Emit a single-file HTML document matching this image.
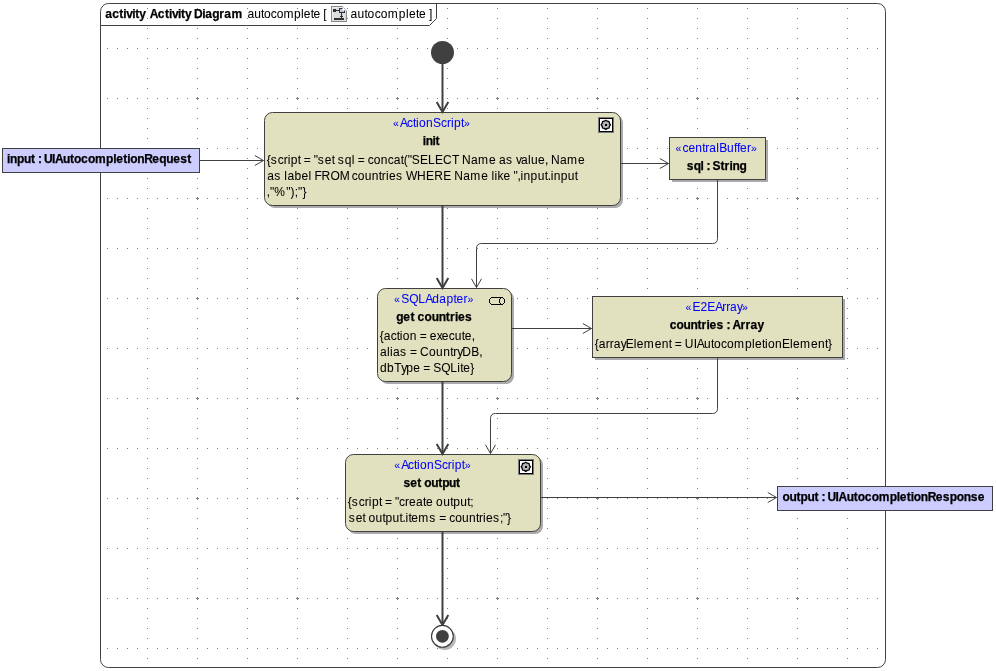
<!DOCTYPE html>
<html><head><meta charset="utf-8">
<style>
html,body{margin:0;padding:0;background:#fff;}
body{width:996px;height:671px;overflow:hidden;position:relative;}
svg{position:absolute;left:0;top:0;will-change:transform;}
text{font-family:"Liberation Sans",sans-serif;font-size:12px;fill:#000;stroke:#000;stroke-width:0.05px;}
.b{stroke-width:0.25px;}
.gq{font-size:10.5px;}
.st{stroke:#0000ff;}
.b{font-weight:bold;}
.st{fill:#0000ff;}
.ln{fill:none;stroke:#404040;stroke-width:1;}
.tk{fill:none;stroke:#404040;stroke-width:2;}
.box{fill:#e1e1bf;stroke:#404040;stroke-width:1;}
.pin{fill:#ccccff;stroke:#404040;stroke-width:1;}
.sh{fill:#aaaaaa;}
</style></head>
<body>
<svg width="996" height="671" viewBox="0 0 996 671">
<defs>
<pattern id="gh" x="0" y="0" width="10" height="50" patternUnits="userSpaceOnUse">
<rect x="7" y="48" width="1" height="1" fill="#808080"/>
</pattern>
<pattern id="gv" x="0" y="0" width="50" height="10" patternUnits="userSpaceOnUse">
<rect x="47" y="8" width="1" height="1" fill="#808080"/>
</pattern>
<pattern id="gx" x="0" y="0" width="100" height="100" patternUnits="userSpaceOnUse">
<rect x="96" y="98" width="3" height="1" fill="#808080"/><rect x="97" y="97" width="1" height="3" fill="#808080"/>
</pattern>
</defs>
<!-- grid -->
<rect x="101" y="26" width="784" height="641" fill="url(#gh)"/>
<rect x="101" y="4" width="784" height="663" fill="url(#gv)"/>
<rect x="101" y="26" width="784" height="641" fill="url(#gx)"/>

<!-- frame -->
<rect x="100.5" y="3.5" width="785" height="664" rx="8" ry="8" class="ln"/>
<path d="M100.5,25.5 H429.5 L436.5,18.5 V3.5" class="ln"/>
<text x="105.34 112.34 119.34 123.34 126.34 132.34 135.34 139.34" y="18" class="b">activity</text>
<text x="149.8 157.86 164.91 168.94 171.96 178.0 181.02 185.05 191.09 194.12 202.17 205.19 212.24 219.29 224.33 231.38" y="18" class="b">Activity Diagram</text>
<text x="247.48 254.29 261.09 264.0 270.8 276.63 283.43 294.12 300.92 303.83 310.64 313.55 320.35 323.27" y="18" class="">autocomplete [</text>
<text x="350.48 357.54 364.6 367.62 374.68 380.73 387.78 398.87 405.93 408.95 416.01 419.03 426.09 429.12" y="18" class="">autocomplete ]</text>


<!-- header icon -->
<g shape-rendering="crispEdges">
<path d="M331.5,6.5 H342.5 L346.5,10.5 V21.5 H331.5 Z" fill="#dcdcdc" stroke="#8a8a8a" stroke-width="1"/>
<rect x="332" y="7" width="10" height="1" fill="#ececec"/>
<rect x="332" y="7" width="1" height="14" fill="#ececec"/>
<rect x="333" y="9" width="3" height="3" fill="#303030"/>
<rect x="336" y="10" width="3" height="1" fill="#303030"/>
<rect x="339" y="8" width="6" height="5" fill="#303030"/>
<rect x="340" y="9" width="4" height="3" fill="#b9c8e6"/>
<rect x="341" y="13" width="1" height="5" fill="#303030"/>
<rect x="340" y="16" width="3" height="1" fill="#303030"/>
<rect x="334" y="18" width="10" height="2" fill="#303030"/>
</g>
<path d="M342.5,6 L342.5,10.5 L347,10.5" fill="#fff" stroke="none"/>
<path d="M342.5,6.5 L346.5,10.5" stroke="#8a8a8a" stroke-width="1" stroke-dasharray="1,1" fill="none"/>

<!-- initial node -->
<circle cx="442.5" cy="52.5" r="11.5" fill="#404040"/>

<!-- init -->
<rect x="267" y="115" width="356" height="93" rx="8" class="sh"/>
<rect x="264.5" y="112.5" width="356" height="93" rx="8" class="box"/>
<g>
<rect x="598.5" y="117.5" width="15" height="15" fill="none" stroke="#7a7a7a" stroke-width="1" shape-rendering="crispEdges"/>
<rect x="599.5" y="118.5" width="13" height="13" fill="#fff" stroke="#000" stroke-width="1" shape-rendering="crispEdges"/>
<polygon points="610.40,124.80 609.40,126.29 609.05,128.05 607.29,128.40 605.80,129.40 604.31,128.40 602.55,128.05 602.20,126.29 601.20,124.80 602.20,123.31 602.55,121.55 604.31,121.20 605.80,120.20 607.29,121.20 609.05,121.55 609.40,123.31" fill="#b4b4b4" stroke="#000" stroke-width="1.3"/>
<rect x="605" y="124" width="2" height="2" fill="#000" shape-rendering="crispEdges"/>
</g>
<text x="393.12 400.1 407.08 413.06 416.05 419.04 426.02 433.0 440.98 446.96 450.95 453.94 460.92 463.91" y="127" class="st"><tspan class="gq">«</tspan>ActionScript<tspan class="gq">»</tspan></text>
<text x="422.86 425.76 432.55 435.46" y="145" class="b">init</text>
<text x="266.8 270.8 277.8 283.81 287.81 290.81 297.81 300.81 303.82 310.82 313.82 317.82 324.83 331.83 334.83 337.83 344.84 351.84 354.84 357.84 364.85 367.85 373.85 380.86 387.86 393.86 400.87 403.87 407.87 411.87 419.88 427.88 434.88 442.89 451.89 458.9 461.9 470.9 477.91 488.91 495.92 498.92 505.92 512.93 515.93 520.93 527.93 530.93 537.94 544.94 547.94 550.95 559.95 566.95 577.96" y="164" class="">{script = "set sql = concat("SELECT Name as value, Name</text>
<text x="267.28 274.32 281.36 284.37 287.39 294.42 301.46 308.49 311.51 314.52 321.56 330.61 339.65 348.7 351.71 357.74 364.78 371.82 378.85 381.87 385.89 388.9 395.94 402.98 405.99 417.05 426.09 434.13 443.18 451.22 454.24 463.28 470.32 481.37 488.41 491.43 494.44 497.46 503.49 510.52 513.54 517.56 520.57 523.59 530.62 537.66 544.7 547.71 550.73 553.74 560.78 567.81 574.85" y="180" class="">as label FROM countries WHERE Name like ",input.input</text>
<text x="266.72 269.97 274.29 286.18 290.51 294.83 298.08 302.4" y="196" class="">,"%");"}</text>

<!-- sql -->
<rect x="672" y="140" width="96" height="42" class="sh"/>
<rect x="669.5" y="137.5" width="96" height="42" class="box"/>
<text x="675.52 682.46 688.41 695.36 702.3 705.28 709.25 716.19 719.17 727.1 734.05 737.02 740.0 746.94 750.91" y="152" class="st"><tspan class="gq">«</tspan>centralBuffer<tspan class="gq">»</tspan></text>
<text x="686.68 693.65 700.62 703.61 706.6 709.59 712.58 720.54 724.53 729.51 732.5 739.47" y="170" class="b">sql : String</text>

<!-- get countries -->
<rect x="380" y="291" width="134" height="93" rx="8" class="sh"/>
<rect x="377.5" y="288.5" width="134" height="93" rx="8" class="box"/>
<g fill="#000" shape-rendering="crispEdges">
<rect x="491" y="297" width="12" height="1"/><rect x="491" y="304" width="12" height="1"/>
<rect x="489" y="299" width="1" height="4"/><rect x="504" y="299" width="1" height="4"/>
<rect x="490" y="298" width="1" height="1"/><rect x="490" y="303" width="1" height="1"/>
<rect x="503" y="298" width="1" height="1"/><rect x="503" y="303" width="1" height="1"/>
<rect x="499" y="299" width="1" height="4"/><rect x="500" y="298" width="1" height="1"/><rect x="500" y="303" width="1" height="1"/>
</g>
<text x="394.12 401.15 409.2 418.25 425.28 432.32 439.36 446.4 453.44 456.45 463.49 467.51" y="303" class="st"><tspan class="gq">«</tspan>SQLAdapter<tspan class="gq">»</tspan></text>
<text x="396.2 403.29 410.39 414.44 417.48 424.58 431.67 438.76 445.86 449.91 454.98 458.02 465.11" y="321" class="b">get countries</text>
<text x="379.7 383.7 390.72 396.73 399.73 402.74 409.75 416.76 419.76 426.78 429.78 436.79 441.8 448.81 454.82 461.83 464.84 471.85" y="340" class="">{action = execute,</text>
<text x="380.08 387.09 390.09 393.09 400.1 407.1 410.1 417.11 420.11 429.12 436.12 443.13 450.13 453.13 457.14 462.14 471.14 479.15" y="356" class="">alias = CountryDB,</text>
<text x="380.1 387.12 394.13 401.15 406.16 413.17 420.19 423.2 430.21 433.22 441.24 450.26 457.27 460.28 463.29 470.3" y="372" class="">dbType = SQLite}</text>

<!-- countries -->
<rect x="595" y="299" width="250" height="61" class="sh"/>
<rect x="592.5" y="296.5" width="250" height="61" class="box"/>
<text x="685.52 692.45 700.38 707.32 715.25 722.19 726.15 730.12 737.06 742.01" y="311" class="st"><tspan class="gq">«</tspan>E2EArray<tspan class="gq">»</tspan></text>
<text x="669.63 676.61 683.59 690.57 697.55 701.54 706.53 709.52 716.5 723.48 726.48 729.47 732.46 740.44 745.42 750.41 757.39" y="329" class="b">countries : Array</text>
<text x="594.7 598.7 605.72 609.72 613.73 620.74 625.75 633.76 636.77 643.78 654.8 661.81 668.83 671.83 674.84 681.85 684.85 693.87 696.87 703.89 710.9 713.9 720.92 726.93 733.94 744.96 751.97 754.98 761.99 764.99 768.0 775.01 782.02 790.04 793.04 800.05 811.07 818.09 825.1 828.1" y="348" class="">{arrayElement = UIAutocompletionElement}</text>

<!-- set output -->
<rect x="348" y="457" width="195" height="77" rx="8" class="sh"/>
<rect x="345.5" y="454.5" width="195" height="77" rx="8" class="box"/>
<g>
<rect x="518.5" y="459.5" width="15" height="15" fill="none" stroke="#7a7a7a" stroke-width="1" shape-rendering="crispEdges"/>
<rect x="519.5" y="460.5" width="13" height="13" fill="#fff" stroke="#000" stroke-width="1" shape-rendering="crispEdges"/>
<polygon points="530.40,466.80 529.40,468.29 529.05,470.05 527.29,470.40 525.80,471.40 524.31,470.40 522.55,470.05 522.20,468.29 521.20,466.80 522.20,465.31 522.55,463.55 524.31,463.20 525.80,462.20 527.29,463.20 529.05,463.55 529.40,465.31" fill="#b4b4b4" stroke="#000" stroke-width="1.3"/>
<rect x="525" y="466" width="2" height="2" fill="#000" shape-rendering="crispEdges"/>
</g>
<text x="394.22 401.17 408.12 414.07 417.05 420.03 426.98 433.93 441.88 447.83 451.8 454.78 461.73 464.71" y="469" class="st"><tspan class="gq">«</tspan>ActionScript<tspan class="gq">»</tspan></text>
<text x="403.38 410.34 417.29 421.27 424.25 431.21 438.17 442.14 449.1 456.06" y="487" class="b">set output</text>
<text x="347.8 351.81 358.84 364.86 368.87 371.89 378.91 381.92 384.93 391.96 394.97 398.99 405.01 409.02 416.05 423.08 426.09 433.11 436.12 443.15 450.18 453.19 460.21 467.24 470.25" y="506" class="">{script = "create output;</text>
<text x="348.67 355.64 362.6 365.59 368.58 375.54 382.51 385.49 392.46 399.43 402.41 405.4 408.38 411.37 418.33 429.28 436.25 439.23 446.2 449.18 455.15 462.12 469.09 476.05 479.04 483.02 486.0 492.97 499.94 502.92 506.9" y="522" class="">set output.items = countries;"}</text>

<!-- edges -->
<path d="M442.5,63 V111" class="tk"/>
<path d="M436.7,102 L442.5,112 L448.3,102" class="tk"/>
<path d="M442.5,206 V287" class="tk"/>
<path d="M436.7,278 L442.5,288 L448.3,278" class="tk"/>
<path d="M442.5,382 V453" class="tk"/>
<path d="M436.7,444 L442.5,454 L448.3,444" class="tk"/>
<path d="M442.5,532 V624" class="tk"/>
<path d="M436.7,615 L442.5,625 L448.3,615" class="tk"/>

<path d="M199,160.5 H263.5 M254.8,155.5 L263.5,160.5 L254.8,165.5" class="ln"/>
<path d="M621,163.5 H668.5 M659.8,158.5 L668.5,163.5 L659.8,168.5" class="ln"/>
<path d="M717.5,180 V238.5 Q717.5,243.5 712.5,243.5 H481.5 Q476.5,243.5 476.5,248.5 V287.5 M471.5,278.8 L476.5,287.5 L481.5,278.8" class="ln"/>
<path d="M512,328.5 H591.5 M582.8,323.5 L591.5,328.5 L582.8,333.5" class="ln"/>
<path d="M717.5,358 V408.5 Q717.5,413.5 712.5,413.5 H495.5 Q490.5,413.5 490.5,418.5 V453.5 M485.5,444.8 L490.5,453.5 L495.5,444.8" class="ln"/>
<path d="M541,497.5 H776.5 M767.8,492.5 L776.5,497.5 L767.8,502.5" class="ln"/>

<!-- pins -->
<rect x="2.5" y="148.5" width="197" height="24" class="pin"/>
<text x="6.96 9.96 16.97 23.98 31.0 35.0 38.01 41.01 44.02 52.03 55.04 63.05 70.06 74.07 81.08 88.09 95.1 106.12 113.13 116.14 123.15 127.16 130.16 137.17 144.18 152.2 159.21 166.22 173.23 180.24 187.26" y="163" class="b">input : UIAutocompletionRequest</text>
<rect x="777.5" y="486.5" width="215" height="24" class="pin"/>
<text x="782.53 789.54 796.55 800.56 807.57 814.58 818.59 821.59 824.6 827.6 835.61 838.62 846.63 853.64 857.65 864.66 871.67 878.68 889.7 896.71 899.71 906.72 910.73 913.73 920.75 927.76 935.77 942.78 949.79 956.8 963.81 970.82 977.83" y="501" class="b">output : UIAutocompletionResponse</text>

<!-- final node -->
<circle cx="444.8" cy="638.8" r="11.2" fill="#b8b8b8"/>
<circle cx="442.4" cy="636.3" r="10.9" fill="#fff" stroke="#383838" stroke-width="1.1"/>
<circle cx="442.4" cy="636.3" r="6.4" fill="#404040"/>
</svg>
</body></html>
